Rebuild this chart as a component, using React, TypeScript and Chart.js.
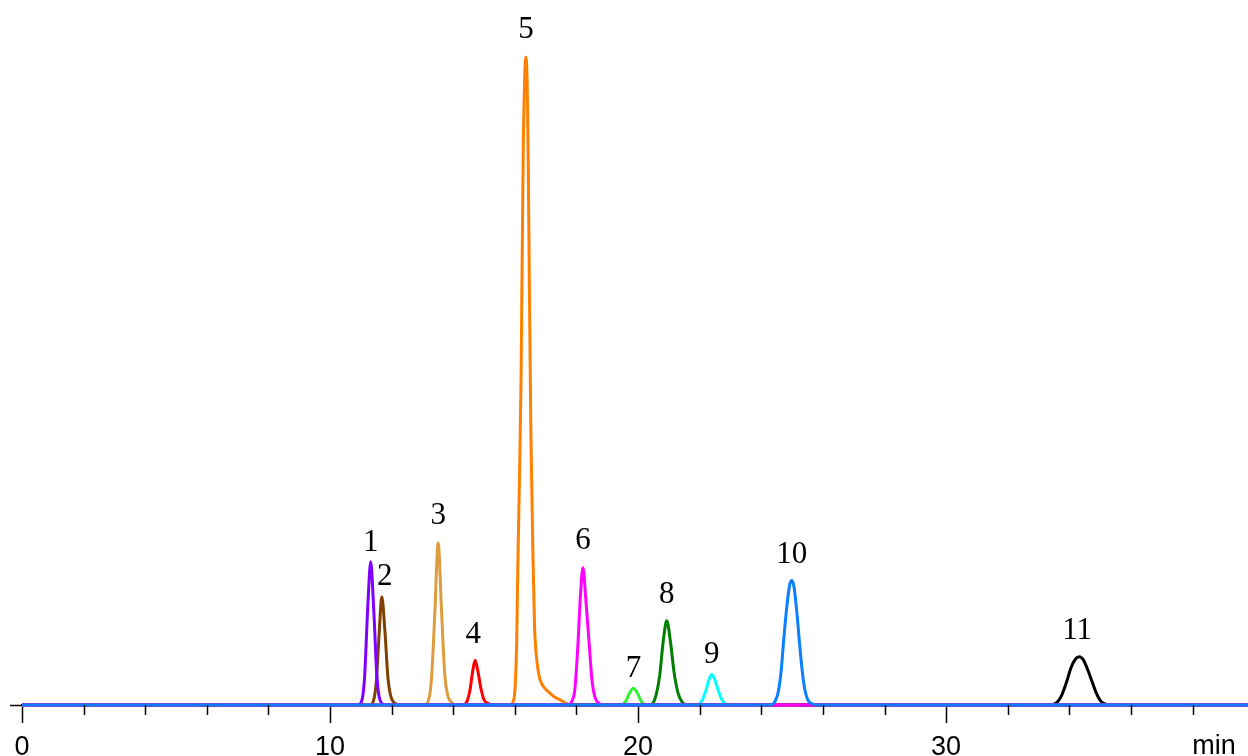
import React, { useEffect, useRef } from "react";
import { Chart, registerables } from "chart.js";

Chart.register(...registerables);

// Retention time (min) and signal (% of largest peak)
const peak1: number[][] = [[10.9, 0], [11.02, 0.5], [11.12, 4.2], [11.22, 14.6], [11.32, 22.1], [11.42, 14.6], [11.52, 4.5], [11.62, 0.8], [11.8, 0]];
const peak2: number[][] = [[11.3, 0], [11.4, 0.5], [11.5, 3.5], [11.6, 11.5], [11.68, 16.7], [11.78, 11.5], [11.88, 4.2], [11.98, 1.2], [12.1, 0.3], [12.3, 0]];
const peak3: number[][] = [[13.05, 0], [13.2, 0.8], [13.3, 4.5], [13.4, 14], [13.51, 25.0], [13.62, 14.5], [13.72, 5], [13.82, 1.5], [13.95, 0.4], [14.1, 0]];
const peak4: number[][] = [[14.3, 0], [14.45, 0.6], [14.55, 2.5], [14.63, 5.2], [14.71, 6.9], [14.8, 5.2], [14.9, 2.5], [15.0, 0.8], [15.15, 0.2], [15.3, 0]];
const peak5: number[][] = [[15.85, 0], [15.95, 0.6], [16.01, 2.8], [16.06, 10], [16.1, 22.4], [16.15, 35], [16.2, 50], [16.27, 85], [16.32, 97], [16.36, 100], [16.4, 96], [16.43, 86], [16.47, 65], [16.52, 42], [16.59, 22.4], [16.64, 12], [16.69, 8], [16.75, 5.5], [16.82, 3.9], [16.95, 2.7], [17.14, 1.85], [17.3, 1.2], [17.47, 0.8], [17.65, 0.3], [17.85, 0]];
const peak6: number[][] = [[17.75, 0], [17.85, 0.6], [17.95, 2.5], [18.05, 9.6], [18.13, 17], [18.21, 21.2], [18.3, 16.5], [18.41, 9.6], [18.5, 4], [18.6, 1.2], [18.72, 0.3], [18.9, 0]];
const peak7: number[][] = [[19.45, 0], [19.6, 0.6], [19.72, 1.8], [19.85, 2.6], [19.98, 1.8], [20.1, 0.6], [20.25, 0]];
const peak8: number[][] = [[20.4, 0], [20.55, 1], [20.7, 4.5], [20.82, 10], [20.93, 13.0], [21.05, 9.8], [21.17, 5], [21.3, 1.8], [21.45, 0.3], [21.6, 0]];
const peak9: number[][] = [[21.9, 0], [22.05, 0.5], [22.2, 2.2], [22.3, 3.9], [22.39, 4.7], [22.5, 3.8], [22.62, 2], [22.75, 0.6], [22.9, 0]];
const peak10: number[][] = [[24.3, 0], [24.45, 0.6], [24.55, 2], [24.65, 5.5], [24.72, 9.6], [24.82, 14.8], [24.92, 18.5], [24.99, 19.2], [25.06, 18.3], [25.15, 14.5], [25.24, 9.6], [25.33, 5.2], [25.42, 2.2], [25.52, 0.7], [25.65, 0.2], [25.8, 0]];
const peak11: number[][] = [[33.4, 0], [33.6, 0.4], [33.75, 1.5], [33.92, 3.7], [34.05, 5.7], [34.2, 7.1], [34.32, 7.45], [34.45, 7], [34.6, 5.4], [34.73, 3.7], [34.88, 1.8], [35.02, 0.6], [35.2, 0.1], [35.4, 0]];

const peaks = [peak1, peak2, peak3, peak4, peak5, peak6, peak7, peak8, peak9, peak10, peak11];
const peakLabels = ["1", "2", "3", "4", "5", "6", "7", "8", "9", "10", "11"];
const peakColors = ["#8000FF", "#804000", "#DF9C3E", "#FF0000", "#FF8000", "#FF00FF", "#33F033", "#007F00", "#00FFFF", "#0A80FF", "#000000"];
// draw order (lower = drawn on top)
const peakOrder = [2, 2, 2, 2, 2, 1, 2, 2, 2, 0, 2];

const xMin = 0;
const xMax = 39.8;
const yMax = 108.8;
const xMajorTicks = [0, 10, 20, 30];
const xUnitLabel = "min";

// label placement above each apex (px)
const labelGap = [11, 12, 19, 17, 19, 19, 11, 18, 12, 18, 18];
const labelShift = [0, 3, 0, -2, 0, 0, 0, 0, 0, 0, -2];

export default function App() {
  const canvasRef = useRef<HTMLCanvasElement | null>(null);

  useEffect(() => {
    const canvas = canvasRef.current;
    if (!canvas) return;

    const datasets = peaks.map((pk, i) => ({
      label: peakLabels[i],
      data: [{ x: xMin, y: 0 }, ...pk.map(([x, y]) => ({ x, y })), { x: xMax, y: 0 }],
      borderColor: peakColors[i],
      backgroundColor: peakColors[i],
      borderWidth: 3,
      pointRadius: 0,
      cubicInterpolationMode: "monotone" as const,
      fill: false,
      clip: false as any,
      order: peakOrder[i],
    }));

    const overlay = {
      id: "overlay",
      afterDraw(chart: any) {
        const ctx = chart.ctx;
        const xs = chart.scales.x;
        const ys = chart.scales.y;
        ctx.save();
        // minor ticks
        ctx.strokeStyle = "#000";
        ctx.lineWidth = 1.5;
        for (let v = xMin; v <= xMax; v += 2) {
          if (xMajorTicks.includes(v)) continue;
          const px = Math.round(xs.getPixelForValue(v)) + 0.5;
          ctx.beginPath();
          ctx.moveTo(px, ys.bottom);
          ctx.lineTo(px, ys.bottom + 10);
          ctx.stroke();
        }
        // unit label
        ctx.fillStyle = "#000";
        ctx.font = '27px "Liberation Sans", Arial, sans-serif';
        ctx.textAlign = "center";
        ctx.textBaseline = "alphabetic";
        ctx.fillText(xUnitLabel, xs.getPixelForValue(38.7), 754);
        // peak labels
        ctx.font = '31px "Liberation Serif", "Times New Roman", serif';
        peaks.forEach((pk, i) => {
          let best = pk[0];
          pk.forEach((p) => { if (p[1] > best[1]) best = p; });
          const px = xs.getPixelForValue(best[0]);
          const py = ys.getPixelForValue(best[1]);
          ctx.fillText(peakLabels[i], px + labelShift[i], py - labelGap[i]);
        });
        ctx.restore();
      },
    };

    const chart = new Chart(canvas, {
      type: "line",
      data: { datasets: datasets as any },
      options: {
        animation: false,
        responsive: false,
        devicePixelRatio: 1,
        layout: { padding: { top: 0, right: 0, left: 0, bottom: 0 } },
        plugins: { legend: { display: false }, tooltip: { enabled: false } },
        scales: {
          x: {
            type: "linear",
            min: xMin,
            max: xMax,
            border: { display: true, color: "#000", width: 1.5 },
            grid: {
              drawOnChartArea: false,
              drawTicks: true,
              tickLength: 18,
              tickWidth: 1.5,
              tickColor: (c: any) => (xMajorTicks.includes(c.tick?.value) ? "#000" : "rgba(0,0,0,0)"),
            },
            ticks: {
              stepSize: 2,
              autoSkip: false,
              maxRotation: 0,
              padding: 8,
              color: "#000",
              font: { family: '"Liberation Sans", Arial, sans-serif', size: 27 },
              callback: (v: any) => (xMajorTicks.includes(Number(v)) ? String(v) : ""),
            },
            afterFit: (s: any) => { s.height = 51; s.paddingLeft = 0; s.paddingRight = 0; },
          },
          y: {
            type: "linear",
            min: 0,
            max: yMax,
            border: { display: false },
            grid: {
              drawOnChartArea: false,
              drawTicks: true,
              tickLength: 12,
              tickWidth: 1.5,
              tickColor: "#000",
            },
            ticks: { display: false },
            afterBuildTicks: (s: any) => { s.ticks = [{ value: 0 }]; },
            afterFit: (s: any) => { s.width = 22; s.paddingTop = 0; s.paddingBottom = 0; },
          },
        },
      },
      plugins: [overlay],
    });

    return () => chart.destroy();
  }, []);

  return (
    <div style={{ position: "absolute", left: 0, top: 0, width: 1248, height: 756, background: "#fff" }}>
      <canvas ref={canvasRef} width={1248} height={756} style={{ width: 1248, height: 756, display: "block" }} />
    </div>
  );
}
